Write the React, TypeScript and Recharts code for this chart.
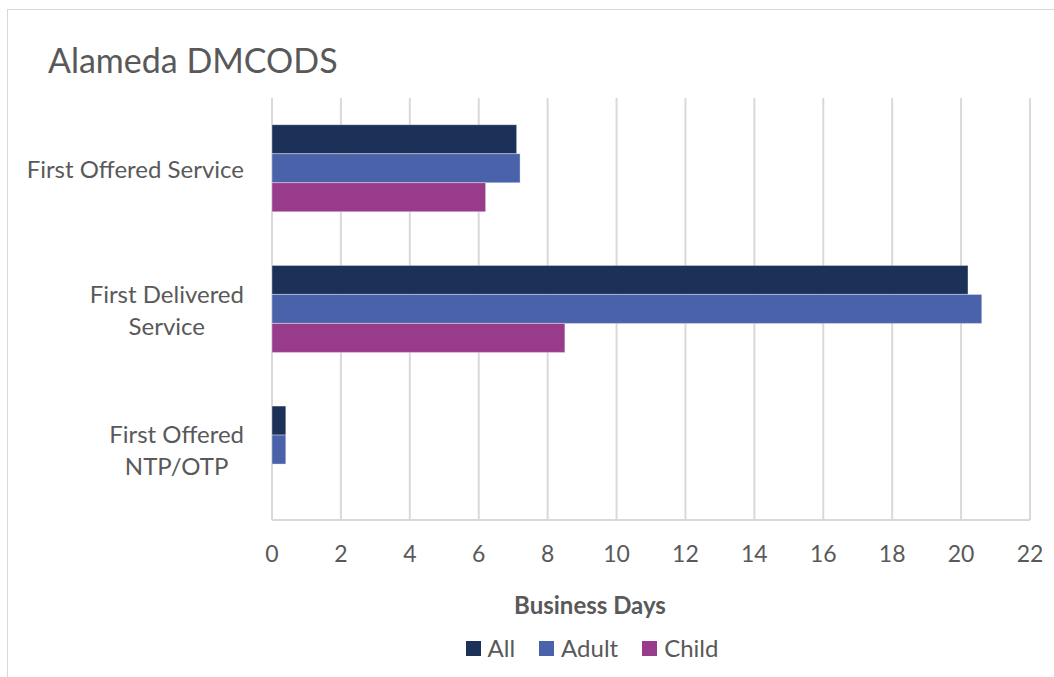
import React from 'react';
import { BarChart, Bar, XAxis, YAxis, CartesianGrid } from 'recharts';

const categories = ['First Offered Service', 'First Delivered Service', 'First Offered NTP/OTP'];
const allValues = [7.1, 20.2, 0.4];
const adultValues = [7.2, 20.6, 0.4];
const childValues = [6.2, 8.5, 0];
const xTicks = [0, 2, 4, 6, 8, 10, 12, 14, 16, 18, 20, 22];

const seriesNames = ['All', 'Adult', 'Child'];
const seriesColors = ['#1b3158', '#4a62aa', '#983b8b'];

const FONT = 'Lato, "Open Sans", sans-serif';
const TEXT = '#595959';

const chartData = categories.map((name, i) => ({
    name,
    All: allValues[i],
    Adult: adultValues[i],
    Child: childValues[i],
}));

let ctx: CanvasRenderingContext2D | null = null;
const measure = (s: string, font: string) => {
    if (!ctx) ctx = document.createElement('canvas').getContext('2d');
    if (!ctx) return s.length * 10;
    ctx.font = font;
    return ctx.measureText(s).width;
};

// wrap category label like Excel does, lines centred inside the block
const CategoryTick = (props: any) => {
    const { x, y, payload } = props;
    const font = '24px Lato';
    const words = String(payload.value).split(' ');
    const lines: string[] = [];
    let cur = '';
    words.forEach(w => {
        const test = cur ? cur + ' ' + w : w;
        if (cur && measure(test, font) > 228) {
            lines.push(cur);
            cur = w;
        } else {
            cur = test;
        }
    });
    if (cur) lines.push(cur);
    const block = Math.max(...lines.map(l => measure(l, font)));
    const cx = x - 28 - block / 2;
    return (
        <g>
            {lines.map((l, i) => (
                <text
                    key={i}
                    x={cx}
                    y={y + (i - (lines.length - 1) / 2) * 32}
                    textAnchor="middle"
                    dominantBaseline="central"
                    fill={TEXT}
                    fontSize={24}
                    fontFamily={FONT}
                >
                    {l}
                </text>
            ))}
        </g>
    );
};

const NumberTick = (props: any) => {
    const { x, y, payload } = props;
    return (
        <text x={x} y={y + 33} textAnchor="middle" dominantBaseline="central" fill={TEXT} fontSize={23} fontFamily={FONT}>
            {payload.value}
        </text>
    );
};

export default function App() {
    return (
        <div style={{ position: 'absolute', left: 0, top: 0, width: 1054, height: 677, overflow: 'hidden', background: '#fff', fontFamily: FONT }}>
            {/* chart frame */}
            <div style={{ position: 'absolute', left: 7, top: 9, width: 1200, height: 800, borderTop: '1.5px solid #d9d9d9', borderLeft: '1.5px solid #d9d9d9' }} />

            <div style={{ position: 'absolute', left: 48, top: 40, fontSize: 34, color: TEXT, lineHeight: '40px', whiteSpace: 'nowrap' }}>
                Alameda DMCODS
            </div>

            <div style={{ position: 'absolute', left: 0, top: 0 }}>
                <BarChart
                    width={1054}
                    height={677}
                    data={chartData}
                    layout="vertical"
                    margin={{ top: 98, right: 24, bottom: 117, left: 0 }}
                    barCategoryGap="19%"
                    barGap={0}
                >
                    <CartesianGrid horizontal={false} stroke="#d9d9d9" strokeWidth={2} />
                    <XAxis
                        type="number"
                        domain={[0, 22]}
                        ticks={xTicks}
                        height={40}
                        tickSize={0}
                        tickMargin={0}
                        tickLine={false}
                        axisLine={{ stroke: '#d9d9d9', strokeWidth: 2 }}
                        tick={<NumberTick />}
                        interval={0}
                    />
                    <YAxis
                        type="category"
                        dataKey="name"
                        width={272}
                        tickSize={0}
                        tickMargin={0}
                        tickLine={false}
                        axisLine={false}
                        tick={<CategoryTick />}
                        interval={0}
                    />
                    {seriesNames.map((s, i) => (
                        <Bar
                            key={s}
                            dataKey={s}
                            fill={seriesColors[i]}
                            stroke="rgba(255,255,255,0.35)"
                            strokeWidth={1}
                            isAnimationActive={false}
                        />
                    ))}
                </BarChart>
            </div>

            <div style={{ position: 'absolute', left: 0, width: 1180, top: 590, textAlign: 'center', fontSize: 24, fontWeight: 700, color: TEXT, lineHeight: '30px' }}>
                Business Days
            </div>

            {/* legend */}
            <div style={{ position: 'absolute', left: 0, width: 1184, top: 633, display: 'flex', justifyContent: 'center', gap: 24, color: TEXT, fontSize: 24, lineHeight: '30px' }}>
                {seriesNames.map((s, i) => (
                    <div key={s} style={{ display: 'flex', alignItems: 'center' }}>
                        <span style={{ display: 'inline-block', width: 15, height: 15, background: seriesColors[i], marginRight: 7 }} />
                        <span>{s}</span>
                    </div>
                ))}
            </div>
        </div>
    );
}
